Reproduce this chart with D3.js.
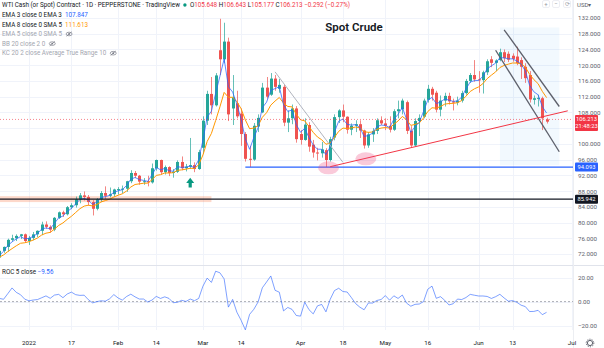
<!DOCTYPE html>
<html><head><meta charset="utf-8">
<script src="https://cdn.jsdelivr.net/npm/d3@7"></script>
<style>
body{margin:0;background:#fff;}
svg{display:block;}
text{font-family:Roboto,"Liberation Sans",sans-serif;}
</style></head>
<body><svg id="chart" width="604" height="348"></svg>
<script>
// Daily candles, WTI cash (spot) contract
const days = ["2021-12-13","2021-12-14","2021-12-15","2021-12-16","2021-12-17","2021-12-20","2021-12-21",
"2021-12-22","2021-12-23","2021-12-27","2021-12-28","2021-12-29","2021-12-30","2021-12-31",
"2022-01-03","2022-01-04","2022-01-05","2022-01-06","2022-01-07","2022-01-10","2022-01-11","2022-01-12","2022-01-13","2022-01-14",
"2022-01-17","2022-01-18","2022-01-19","2022-01-20","2022-01-21","2022-01-24","2022-01-25","2022-01-26","2022-01-27","2022-01-28","2022-01-31",
"2022-02-01","2022-02-02","2022-02-03","2022-02-04","2022-02-07","2022-02-08","2022-02-09","2022-02-10","2022-02-11",
"2022-02-14","2022-02-15","2022-02-16","2022-02-17","2022-02-18","2022-02-21","2022-02-22","2022-02-23","2022-02-24","2022-02-25","2022-02-28",
"2022-03-01","2022-03-02","2022-03-03","2022-03-04","2022-03-07","2022-03-08","2022-03-09","2022-03-10","2022-03-11",
"2022-03-14","2022-03-15","2022-03-16","2022-03-17","2022-03-18","2022-03-21","2022-03-22","2022-03-23","2022-03-24","2022-03-25",
"2022-03-28","2022-03-29","2022-03-30","2022-03-31","2022-04-01","2022-04-04","2022-04-05","2022-04-06","2022-04-07","2022-04-08",
"2022-04-11","2022-04-12","2022-04-13","2022-04-14","2022-04-18","2022-04-19","2022-04-20","2022-04-21","2022-04-22",
"2022-04-25","2022-04-26","2022-04-27","2022-04-28","2022-04-29","2022-05-02","2022-05-03","2022-05-04","2022-05-05","2022-05-06",
"2022-05-09","2022-05-10","2022-05-11","2022-05-12","2022-05-13","2022-05-16","2022-05-17","2022-05-18","2022-05-19","2022-05-20",
"2022-05-23","2022-05-24","2022-05-25","2022-05-26","2022-05-27","2022-05-30","2022-05-31","2022-06-01","2022-06-02","2022-06-03",
"2022-06-06","2022-06-07","2022-06-08","2022-06-09","2022-06-10","2022-06-13","2022-06-14","2022-06-15","2022-06-16","2022-06-17",
"2022-06-20","2022-06-21","2022-06-22","2022-06-23"];
const opens = [72.0,71.3,70.7,70.9,72.4,70.9,68.2,
71.1,72.8,73.8,75.6,76.0,76.6,77.0,
75.3,76.1,77.0,77.9,79.5,78.9,78.2,81.2,82.6,82.1,
83.9,84.4,85.9,86.9,86.5,85.2,83.5,85.9,87.5,86.8,87.2,
88.4,88.5,88.6,90.5,92.6,91.9,90.4,90.5,90.2,
93.8,95.9,92.8,94.1,92.6,92.9,95.4,93.8,94.2,94.6,93.6,
99.0,105.9,112.7,109.8,123.8,121.5,126.0,109.0,110.3,
107.7,102.5,96.2,96.0,104.4,108.0,114.3,112.5,116.6,114.0,
114.5,105.4,106.5,109.0,102.5,101.0,104.8,99.8,97.8,97.6,
98.4,95.9,101.6,106.8,108.5,106.9,103.6,104.6,105.0,
103.4,99.6,102.4,103.3,106.0,105.2,104.6,103.6,108.3,108.8,
110.6,103.3,99.6,105.8,106.9,111.2,114.0,113.0,108.7,111.0,
112.2,110.8,110.5,111.0,112.9,116.0,117.5,116.4,116.2,118.2,
121.5,120.6,121.3,123.3,122.9,122.4,122.2,121.3,119.6,117.5,
111.2,111.5,111.6,105.648];
const highs = [72.4,71.6,71.4,72.9,72.6,71.0,71.3,
72.9,73.9,75.9,76.9,77.0,77.1,77.2,
76.6,77.6,78.0,80.2,80.3,79.3,81.4,82.8,83.0,84.2,
84.9,86.6,87.5,87.9,87.0,85.7,86.2,88.0,89.2,88.9,88.6,
89.0,89.4,90.6,93.3,93.1,92.1,91.3,91.9,95.0,
96.0,96.0,94.5,94.3,93.6,95.8,96.8,94.9,101.5,95.3,98.5,
107.0,113.5,117.0,118.0,131.8,130.8,127.0,117.5,113.5,
109.0,103.0,99.5,105.3,107.5,115.5,117.0,118.0,117.5,116.5,
115.0,108.5,110.0,109.6,103.5,106.5,105.5,101.0,99.0,100.5,
98.9,101.8,107.5,108.8,110.0,107.0,105.2,106.0,106.0,
103.6,103.0,104.0,106.5,107.0,106.5,107.0,108.8,111.0,111.5,
111.0,104.5,106.5,107.5,111.5,115.0,114.5,113.5,112.3,113.0,
113.0,111.5,112.0,113.5,116.5,118.0,121.3,118.5,118.6,121.5,
122.3,121.5,124.2,124.0,123.5,123.0,124.7,122.0,120.5,118.5,
112.3,112.5,112.0,106.643];
const lows = [70.6,69.8,69.5,70.8,69.8,66.1,68.1,
70.6,72.3,72.6,75.2,75.3,75.8,74.9,
74.3,75.5,76.3,76.8,78.4,77.4,77.8,80.9,81.4,81.8,
83.4,83.8,84.9,85.6,84.3,81.8,83.1,85.2,86.0,86.4,86.6,
87.1,87.4,87.8,90.0,91.3,89.6,89.6,89.2,89.9,
93.2,92.2,92.2,91.8,91.4,92.6,93.3,93.0,93.6,92.8,93.4,
97.5,104.8,107.5,109.5,117.5,120.5,105.8,104.8,106.5,
99.5,95.5,94.1,95.7,103.0,107.8,111.5,112.2,113.5,113.0,
104.5,103.0,105.0,100.3,99.8,100.8,98.0,96.5,95.8,96.5,
94.1,95.5,100.9,105.3,105.5,102.6,102.2,103.0,101.5,
98.8,99.0,100.5,102.5,104.8,103.5,102.9,103.3,106.5,107.5,
102.5,99.0,99.3,102.0,106.5,110.5,111.0,108.0,107.0,109.5,
110.0,108.5,109.8,110.5,112.5,115.5,115.8,113.0,112.8,117.5,
119.5,118.5,121.0,120.8,120.8,120.9,120.0,116.5,115.5,110.5,
110.0,109.5,103.5,105.177];
const closes = [71.3,70.7,70.9,72.4,70.9,68.2,71.1,
72.8,73.8,75.6,76.0,76.6,77.0,75.3,
76.1,77.0,77.9,79.5,78.9,78.2,81.2,82.6,82.1,83.9,
84.4,85.9,86.9,86.5,85.2,83.5,85.9,87.5,86.8,87.2,88.4,
88.5,88.6,90.5,92.6,91.9,90.4,90.5,90.2,93.8,
95.9,92.8,94.1,92.6,92.9,95.4,93.8,94.2,94.6,93.6,97.9,
105.9,112.7,109.8,117.4,121.5,126.0,107.5,111.8,107.0,
102.5,96.2,96.0,104.6,106.6,114.3,112.0,116.6,114.5,115.0,
105.4,106.5,109.0,101.2,101.0,104.9,99.3,97.8,97.6,98.6,
95.9,101.2,106.8,108.5,106.9,103.6,104.6,105.0,103.4,
99.6,102.4,103.3,106.0,105.2,104.6,103.6,108.3,108.8,111.0,
103.3,99.6,105.8,106.6,111.0,114.0,112.5,108.7,111.0,112.2,
110.8,110.5,111.0,112.9,116.0,117.5,116.4,116.2,118.2,121.0,
120.6,121.2,123.3,121.8,121.4,121.6,120.5,119.6,116.7,111.3,
111.6,111.7,106.505,106.213];

// Trading calendar (weekdays, exchange closures removed)
const closedDays = ["2021-12-24","2022-04-15"];
const calendarStart = "2021-12-13", calendarEnd = "2022-07-01";

// Axis ticks (104 sits under the last-price tag, so it carries no label)
const priceTicks = [72,76,80,84,88,92,96,100,104,108,112,116,120,124,128,132];
const hiddenPriceLabels = [104];
const rocTicks = [-20,0,20];
const timeTicks = [["2022-01-03","2022"],["2022-01-17","17"],["2022-02-01","Feb"],["2022-02-14","14"],
  ["2022-03-01","Mar"],["2022-03-14","14"],["2022-04-01","Apr"],["2022-04-18","18"],["2022-05-02","May"],
  ["2022-05-16","16"],["2022-06-01","Jun"],["2022-06-13","13"],["2022-07-01","Jul"]];

// Drawing tools on the chart (time, price anchors)
const supportLevel = {from:"2022-03-15", price:94.093};
const keyLevel = 85.942;
const zoneBand = {from:"2021-12-13", to:"2022-03-03", top:86.7, bottom:85.2};
const risingLine = [["2022-04-12",94.2],["2022-06-30",108.4]];
const fallingLine = [["2022-03-24",118.3],["2022-04-18",95.3]];
const channelUpper = [["2022-06-09",129.0],["2022-06-28",109.5]];
const channelLower = [["2022-06-07",123.8],["2022-06-28",98.0]];
const channelBox = {from:"2022-06-08", to:"2022-06-28", top:129.6, bottom:94.6};
const lowMarks = [{at:"2022-04-11",shift:0.6,price:93.9},{at:"2022-04-25",shift:0.4,price:96.2}];
const arrowMark = {at:"2022-02-24", top:91.4, bottom:88.9};

const legendRows = [
  {name:"EMA 3 close 0 EMA 3", value:"107.847", color:"#2962ff"},
  {name:"EMA 8 close 0 SMA 5", value:"111.613", color:"#ff9800"},
  {name:"EMA 5 close 0 SMA 5", value:null},
  {name:"BB 20 close 2 0", value:null},
  {name:"KC 20 2 close Average True Range 10", value:null}
];
const lastPrice = 106.213, countdown = "21:48:23", rocLast = "\u22129.56";

// ---- calendar & scales ----
const calendar = [];
for (let d = new Date(calendarStart+"T00:00:00Z"); d <= new Date(calendarEnd+"T00:00:00Z"); d.setUTCDate(d.getUTCDate()+1)) {
  const s = d.toISOString().slice(0,10), wd = d.getUTCDay();
  if (wd>0 && wd<6 && !closedDays.includes(s)) calendar.push(s);
}
const idx = s => calendar.indexOf(s);

const W = 604, plotR = 573, mainB = 265, rocT = 266, rocB = 330;
const x = d3.scaleLinear().domain([idx("2022-01-03"), idx("2022-07-01")]).range([29, 572]);
const y = d3.scaleLinear().domain([72,132]).range([254,18]);
const yr = d3.scaleLinear().domain([-20,20]).range([325.5,277.7]);

const svg = d3.select("#chart");
svg.append("rect").attr("width",W).attr("height",348).attr("fill","#fff");
const defs = svg.append("defs");
defs.append("clipPath").attr("id","mainClip").append("rect").attr("x",0).attr("y",0).attr("width",plotR).attr("height",mainB);
defs.append("clipPath").attr("id","rocClip").append("rect").attr("x",0).attr("y",rocT).attr("width",plotR).attr("height",rocB-rocT);

// grid
const grid = svg.append("g");
grid.selectAll(".hg").data(priceTicks).join("line")
  .attr("x1",0).attr("x2",plotR).attr("y1",d=>Math.round(y(d))+0.5).attr("y2",d=>Math.round(y(d))+0.5)
  .attr("stroke","#f0f3fa");
grid.selectAll(".rg").data(rocTicks).join("line")
  .attr("x1",0).attr("x2",plotR).attr("y1",d=>Math.round(yr(d))+0.5).attr("y2",d=>Math.round(yr(d))+0.5)
  .attr("stroke","#f0f3fa");
grid.selectAll(".vg").data(timeTicks).join("line")
  .attr("x1",d=>Math.round(x(idx(d[0])))+0.5).attr("x2",d=>Math.round(x(idx(d[0])))+0.5)
  .attr("y1",0).attr("y2",rocB).attr("stroke","#f0f3fa");

// pane borders
svg.append("line").attr("x1",0).attr("x2",W).attr("y1",rocT-0.5).attr("y2",rocT-0.5).attr("stroke","#e0e3eb");
svg.append("line").attr("x1",plotR+0.5).attr("x2",plotR+0.5).attr("y1",0).attr("y2",348).attr("stroke","#eceef2");

const main = svg.append("g").attr("clip-path","url(#mainClip)");

// highlighted zone
main.append("rect")
  .attr("x",x(idx(zoneBand.from))).attr("width",x(idx(zoneBand.to))-x(idx(zoneBand.from)))
  .attr("y",y(zoneBand.top)).attr("height",y(zoneBand.bottom)-y(zoneBand.top))
  .attr("fill","rgba(247,125,80,0.3)");

// channel background box
main.append("rect")
  .attr("x",x(idx(channelBox.from))).attr("width",x(idx(channelBox.to))-x(idx(channelBox.from)))
  .attr("y",y(channelBox.top)).attr("height",y(channelBox.bottom)-y(channelBox.top))
  .attr("fill","rgba(33,150,243,0.06)");

// candles (the live bar is coloured against the previous close)
const bars = days.map((d,i)=>({d, o:opens[i], h:highs[i], l:lows[i], c:closes[i],
  up: i===days.length-1 ? closes[i]>=closes[i-1] : closes[i]>=opens[i]}));
const upC = "#26a69a", dnC = "#ef5350";
const cg = main.append("g");
cg.selectAll(".wick").data(bars).join("line")
  .attr("x1",b=>Math.round(x(idx(b.d)))+0.5).attr("x2",b=>Math.round(x(idx(b.d)))+0.5)
  .attr("y1",b=>y(b.h)).attr("y2",b=>y(b.l))
  .attr("stroke",b=>b.up?upC:dnC).attr("stroke-width",1).attr("opacity",0.7);
cg.selectAll(".body").data(bars).join("rect")
  .attr("x",b=>Math.round(x(idx(b.d)))-1).attr("width",3)
  .attr("y",b=>y(Math.max(b.o,b.c))).attr("height",b=>Math.max(1,Math.abs(y(b.o)-y(b.c))))
  .attr("fill",b=>b.up?upC:dnC);

// moving averages
function ema(vals,n){const a=2/(n+1);let e=vals[0];return vals.map((v,i)=>i===0?e:(e=a*v+(1-a)*e));}
const ema3 = ema(closes,3), ema8 = ema(closes,8);
const ln = d3.line().x((v,i)=>x(idx(days[i]))).y(v=>y(v));
main.append("path").attr("d",ln(ema8)).attr("fill","none").attr("stroke","#ff9800").attr("stroke-width",1);
main.append("path").attr("d",ln(ema3)).attr("fill","none").attr("stroke","#2962ff").attr("stroke-width",1).attr("opacity",0.75);

// levels
main.append("line").attr("x1",0).attr("x2",plotR).attr("y1",y(keyLevel)).attr("y2",y(keyLevel))
  .attr("stroke","#131722").attr("stroke-width",1.3);
main.append("line").attr("x1",x(idx(supportLevel.from))).attr("x2",plotR)
  .attr("y1",y(supportLevel.price)).attr("y2",y(supportLevel.price)).attr("stroke","#2962ff").attr("stroke-width",1.3);
main.append("line").attr("x1",0).attr("x2",plotR).attr("y1",y(lastPrice)).attr("y2",y(lastPrice))
  .attr("stroke","#f23645").attr("stroke-width",1).attr("stroke-dasharray","1,2").attr("opacity",0.6);

// trend lines
const seg = (p,col,w)=>main.append("line")
  .attr("x1",x(idx(p[0][0]))).attr("y1",y(p[0][1])).attr("x2",x(idx(p[1][0]))).attr("y2",y(p[1][1]))
  .attr("stroke",col).attr("stroke-width",w);
seg(fallingLine,"#b2b5be",1);
seg(channelUpper,"#5d606b",1.3);
seg(channelLower,"#5d606b",1.3);
seg(risingLine,"#f23645",1);

// marked lows
main.selectAll(".lm").data(lowMarks).join("ellipse")
  .attr("cx",m=>x(idx(m.at)+m.shift)).attr("cy",m=>y(m.price))
  .attr("rx",10.5).attr("ry",6.5).attr("fill","rgba(236,64,122,0.28)");

// arrow
{
  const ax = x(idx(arrowMark.at)), at = y(arrowMark.top), ab = y(arrowMark.bottom);
  const hh = (ab-at)*0.55;
  main.append("path").attr("d",`M${ax},${at} L${ax+4},${at+hh} L${ax+1.6},${at+hh} L${ax+1.6},${ab} L${ax-1.6},${ab} L${ax-1.6},${at+hh} L${ax-4},${at+hh} Z`)
    .attr("fill","#089981");
}

// ROC pane
const roc = closes.map((c,i)=> i<5 ? null : (c/closes[i-5]-1)*100);
const rg = svg.append("g").attr("clip-path","url(#rocClip)");
rg.append("line").attr("x1",0).attr("x2",plotR).attr("y1",yr(0)).attr("y2",yr(0))
  .attr("stroke","#9598a1").attr("stroke-dasharray","2,2").attr("stroke-width",0.8);
const rl = d3.line().defined(v=>v!==null).x((v,i)=>x(idx(days[i]))).y(v=>yr(v));
rg.append("path").attr("d",rl(roc)).attr("fill","none").attr("stroke","#2962ff").attr("stroke-width",1).attr("opacity",0.6);

// price axis
const axG = svg.append("g").attr("transform",`translate(${plotR},0)`)
  .call(d3.axisRight(y).tickValues(priceTicks.filter(t=>!hiddenPriceLabels.includes(t)))
    .tickSize(0).tickPadding(5).tickFormat(d3.format(".3f")));
axG.select(".domain").remove();
axG.selectAll("text").attr("font-size",6.2).attr("fill","#5d606b").attr("font-family","Roboto,sans-serif");
const raG = svg.append("g").attr("transform",`translate(${plotR},0)`)
  .call(d3.axisRight(yr).tickValues(rocTicks).tickSize(0).tickPadding(5).tickFormat(d3.format(".2f")));
raG.select(".domain").remove();
raG.selectAll("text").attr("font-size",6.2).attr("fill","#5d606b").attr("font-family","Roboto,sans-serif");

svg.append("text").attr("x",577).attr("y",6.5).attr("font-size",6).attr("fill","#5d606b").text("USD\u25BE");

// price tags
function tag(price, bg, lines){
  const cy = y(price), h = lines.length*7+2;
  svg.append("rect").attr("x",575).attr("y",cy-4.5).attr("width",23).attr("height",h).attr("rx",1).attr("fill",bg);
  lines.forEach((t,i)=>svg.append("text").attr("x",586.5).attr("y",cy+1.8+i*7).attr("text-anchor","middle")
    .attr("font-size",5.8).attr("fill","#fff").text(t));
}
tag(lastPrice,"#f23645",[lastPrice.toFixed(3),countdown]);
tag(supportLevel.price,"#2962ff",[supportLevel.price.toFixed(3)]);
tag(keyLevel,"#131722",[keyLevel.toFixed(3)]);

// time axis
svg.selectAll(".tl").data(timeTicks).join("text")
  .attr("x",d=>x(idx(d[0]))).attr("y",345).attr("text-anchor","middle")
  .attr("font-size",6.2).attr("fill","#131722").text(d=>d[1]);
// settings gear
{
  const g = svg.append("g").attr("transform","translate(590,343)");
  g.append("circle").attr("r",2.6).attr("fill","none").attr("stroke","#5d606b").attr("stroke-width",1);
  g.append("circle").attr("r",3.8).attr("fill","none").attr("stroke","#5d606b").attr("stroke-width",1).attr("stroke-dasharray","1.2,1.2");
}
// toolbar
[[546,"+"],[556,"\u2212"],[567,"\u27F3"]].forEach(([tx,s])=>{
  svg.append("rect").attr("x",tx-3.5).attr("y",0.5).attr("width",7).attr("height",7).attr("rx",1.5)
    .attr("fill","#fff").attr("stroke","#e0e3eb").attr("stroke-width",0.6);
  svg.append("text").attr("x",tx).attr("y",6).attr("text-anchor","middle").attr("font-size",6).attr("fill","#9598a1").text(s);
});

// legend
const lg = svg.append("g").attr("font-size",6.3);
const head = lg.append("text").attr("x",2).attr("y",7).attr("fill","#131722");
head.append("tspan").text("WTI Cash (or Spot) Contract \u00B7 1D \u00B7 PEPPERSTONE \u00B7 TradingView");
const headW = head.node().getComputedTextLength();
lg.append("circle").attr("cx",2+headW+5).attr("cy",5).attr("r",1.7).attr("fill","#089981");
const ohlc = lg.append("text").attr("x",2+headW+10).attr("y",7).attr("fill","#f23645");
[["O","105.648"],["H","106.643"],["L","105.177"],["C","106.213"]].forEach(([k,v])=>{
  ohlc.append("tspan").attr("fill","#131722").text(k);
  ohlc.append("tspan").text(v+" ");
});
ohlc.append("tspan").text("\u22120.292 (\u22120.27%)");

legendRows.forEach((r,i)=>{
  const ty = 17 + i*9.6;
  const t = lg.append("text").attr("x",2).attr("y",ty).attr("fill", r.value ? "#131722" : "#a3a6af").text(r.name);
  const w = t.node().getComputedTextLength();
  if (r.value) {
    lg.append("text").attr("x",2+w+3).attr("y",ty).attr("fill",r.color).text(r.value);
  } else {
    const e = lg.append("g").attr("transform",`translate(${2+w+7},${ty-2.2})`);
    e.append("ellipse").attr("rx",3).attr("ry",1.8).attr("fill","none").attr("stroke","#787b86").attr("stroke-width",0.7);
    e.append("circle").attr("r",0.9).attr("fill","#787b86");
    e.append("line").attr("x1",-2.6).attr("y1",2.2).attr("x2",2.6).attr("y2",-2.2).attr("stroke","#787b86").attr("stroke-width",0.7);
  }
});
const rocL = lg.append("text").attr("x",2).attr("y",274).attr("fill","#131722");
rocL.append("tspan").text("ROC 5 close ");
rocL.append("tspan").attr("fill","#2962ff").text(rocLast);

// title
svg.append("text").attr("x",354).attr("y",31).attr("text-anchor","middle")
  .attr("font-family","'Open Sans',sans-serif").attr("font-weight",600).attr("font-size",11.5)
  .attr("fill","#131722").text("Spot Crude");
</script></body></html>
